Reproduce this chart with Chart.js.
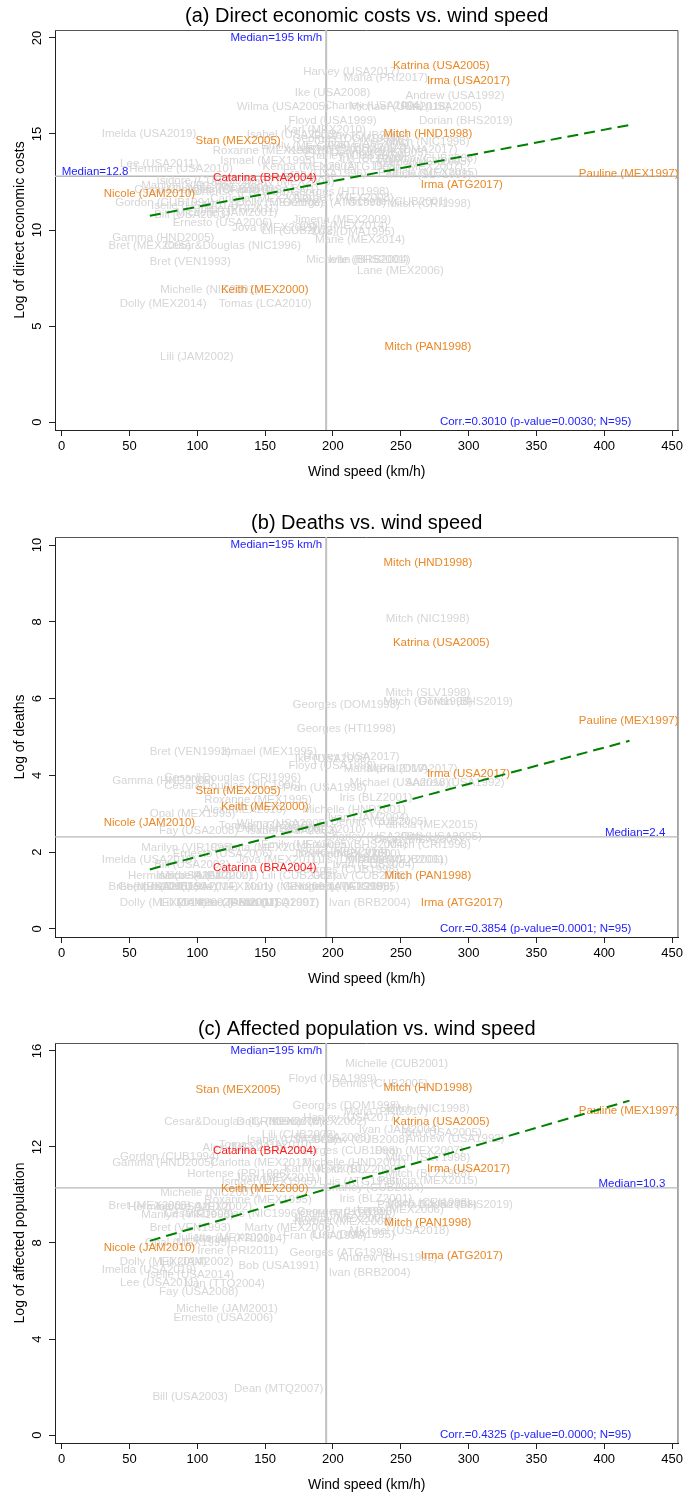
<!DOCTYPE html>
<html>
<head>
<meta charset="utf-8">
<script src="https://cdn.jsdelivr.net/npm/chart.js@4.4.0/dist/chart.umd.min.js"></script>
<style>
  body { margin: 0; background: #fff; width: 686px; height: 1499px; overflow: hidden; position: relative; }
  canvas { position: absolute; left: 0; }
</style>
</head>
<body>
<canvas id="chartA" width="686" height="500" style="top:0px"></canvas>
<canvas id="chartB" width="686" height="500" style="top:507px"></canvas>
<canvas id="chartC" width="686" height="500" style="top:1013px"></canvas>
<script>
// shared x axis (wind speed)
var xTicks = [0, 50, 100, 150, 200, 250, 300, 350, 400, 450];
var xMin = -4.9, xMax = 454.7;
var windMedian = 195;
var orangeNames = ['Katrina (USA2005)', 'Irma (USA2017)', 'Mitch (HND1998)', 'Stan (MEX2005)', 'Nicole (JAM2010)',
  'Keith (MEX2000)', 'Pauline (MEX1997)', 'Irma (ATG2017)', 'Mitch (PAN1998)'];
var redNames = ['Catarina (BRA2004)'];

// (a) direct economic costs
var namesA = ['Harvey (USA2017)', 'Maria (PRI2017)', 'Katrina (USA2005)', 'Irma (USA2017)', 'Ike (USA2008)', 'Andrew (USA1992)',
  'Wilma (USA2005)', 'Charley (USA2004)', 'Michael (USA2018)', 'Rita (USA2005)', 'Floyd (USA1999)', 'Dorian (BHS2019)',
  'Imelda (USA2019)', 'Mitch (HND1998)', 'Stan (MEX2005)', 'Isabel (USA2003)', 'Karl (MEX2010)', 'Georges (DOM1998)',
  'Ivan (JAM2004)', 'Gustav (CUB2008)', 'Frances (BHS2004)', 'Maria (DMA2017)', 'Wilma (MEX2005)', 'Roxanne (MEX1995)',
  'Dennis (CUB2005)', 'Lee (USA2011)', 'Ismael (MEX1995)', 'Hermine (USA2010)', 'Charley (CUB2004)', 'Kenna (MEX2002)',
  'Emily (MEX2005)', 'Keith (BLZ2000)', 'Iris (BLZ2001)', 'Luis (ATG1995)', 'Dean (MEX2007)', 'Paloma (CUB2008)',
  'Mitch (SLV1998)', 'Georges (HTI1998)', 'Isidore (CUB2002)', 'Catarina (BRA2004)', 'Pauline (MEX1997)', 'Irma (ATG2017)',
  'Nicole (JAM2010)', 'Cesar&Douglas (CRI1996)', 'Gordon (CUB1994)', 'Iselle (USA2014)', 'Dolly (MEX2008)', 'Georges (ATG1998)',
  'Michelle (CUB2001)', 'Mitch (CRI1998)', 'Michelle (JAM2001)', 'Bill (USA2003)', 'Ernesto (USA2006)', 'Jimena (MEX2009)',
  'Jova (MEX2011)', 'Lili (CUB2002)', 'Odile (MEX2014)', 'Luis (DMA1995)', 'Marie (MEX2014)', 'Gamma (HND2005)',
  'Bret (MEX2005)', 'Cesar&Douglas (NIC1996)', 'Bret (VEN1993)', 'Michelle (BHS2001)', 'Ivan (BRB2004)', 'Lane (MEX2006)',
  'Michelle (NIC2001)', 'Keith (MEX2000)', 'Dolly (MEX2014)', 'Tomas (LCA2010)', 'Lili (JAM2002)', 'Mitch (PAN1998)',
  'Marilyn (VIR1995)', 'Carlotta (MEX2012)', 'Bob (USA1991)', 'Fran (USA1996)', 'Norbert (MEX2008)', 'Irene (PRI2011)',
  'Hortense (PRI1996)', 'Juliette (MEX2001)', 'Marty (MEX2003)', 'Mitch (NIC1998)', 'Patricia (MEX2015)'];
var windA = [213.6, 239, 279.8, 299.9, 199.7, 290,
  163, 230, 249, 280, 199.7, 298,
  64.4, 270, 130.1, 170, 194, 209.8,
  226, 220, 217, 258.5, 267, 151,
  234, 72, 152, 88, 215.7, 183,
  180, 198, 231.6, 219.5, 263, 269.5,
  271, 205, 105, 149.8, 418, 295,
  64.7, 104, 76, 98, 161, 201,
  247, 270.8, 121.6, 96, 118.6, 206.5,
  157, 175, 208, 215, 220, 74.9,
  65, 126, 94.8, 218, 227, 249.7,
  109, 149.7, 74.8, 150, 99.6, 270,
  92.8, 147, 160, 194, 208, 130,
  130.2, 120, 168, 269.8, 270];
var costA = [18.24, 17.9, 18.56, 17.76, 17.15, 16.98,
  16.42, 16.45, 16.42, 16.42, 15.69, 15.69,
  15.0, 15.03, 14.64, 14.98, 15.2, 14.75,
  14.5, 14.9, 14.3, 14.17, 13.56, 14.13,
  14.03, 13.44, 13.6, 13.2, 13.85, 13.3,
  14.4, 14.1, 13.7, 13.3, 13.3, 13.7,
  12.86, 12.0, 12.55, 12.72, 12.92, 12.34,
  11.86, 12.08, 11.42, 11.27, 11.42, 11.42,
  11.45, 11.35, 10.9, 10.78, 10.35, 10.52,
  10.1, 9.96, 10.2, 9.88, 9.48, 9.6,
  9.17, 9.17, 8.33, 8.44, 8.44, 7.86,
  6.875, 6.875, 6.13, 6.13, 3.37, 3.92,
  12.3, 11.6, 12.1, 12.9, 11.7, 11.1,
  12.0, 12.2, 12.5, 14.6, 13.0];

// (b) deaths
var namesB = ['Mitch (HND1998)', 'Mitch (NIC1998)', 'Katrina (USA2005)', 'Mitch (SLV1998)', 'Mitch (GTM1998)', 'Dorian (BHS2019)',
  'Georges (DOM1998)', 'Pauline (MEX1997)', 'Georges (HTI1998)', 'Bret (VEN1993)', 'Ismael (MEX1995)', 'Harvey (USA2017)',
  'Ike (USA2008)', 'Floyd (USA1999)', 'Maria (PRI2017)', 'Maria (DMA2017)', 'Irma (USA2017)', 'Michael (USA2018)',
  'Andrew (USA1992)', 'Gamma (HND2005)', 'Cesar&Douglas (CRI1996)', 'Cesar&Douglas (NIC1996)', 'Fran (USA1996)', 'Michelle (HND2001)',
  'Stan (MEX2005)', 'Iris (BLZ2001)', 'Roxanne (MEX1995)', 'Keith (MEX2000)', 'Opal (MEX1995)', 'Alex (MEX2010)',
  'Nicole (JAM2010)', 'Fay (USA2008)', 'Tomas (LCA2010)', 'Karl (MEX2010)', 'Dennis (CUB2005)', 'Patricia (MEX2015)',
  'Charley (USA2004)', 'Rita (USA2005)', 'Dean (MEX2007)', 'Mitch (CRI1998)', 'Marilyn (VIR1995)', 'Carlotta (MEX2012)',
  'Ernesto (USA2006)', 'Imelda (USA2019)', 'Jova (MEX2011)', 'Bill (USA2003)', 'Catarina (BRA2004)', 'Hermine (USA2010)',
  'Isidore (MEX2002)', 'Lili (CUB2002)', 'Michelle (CUB2001)', 'Mitch (PAN1998)', 'Bret (MEX2005)', 'Gordon (CUB1994)',
  'Georges (ATG1998)', 'Luis (ATG1995)', 'Dolly (MEX2014)', 'Dean (MTQ2007)', 'Ivan (BRB2004)', 'Irma (ATG2017)',
  'Juliette (MEX2001)', 'Marty (MEX2003)', 'Norbert (MEX2008)', 'Lili (JAM2002)', 'Michelle (JAM2001)', 'Irene (PRI2011)',
  'Jimena (MEX2009)', 'Lane (MEX2006)', 'Ivan (CUB2004)', 'Georges (CUB1998)', 'Luis (DMA1995)', 'Keith (BLZ2000)',
  'Gustav (CUB2008)', 'Ivan (JAM2004)', 'Emily (MEX2005)', 'Frances (BHS2004)', 'Isabel (USA2003)', 'Wilma (USA2005)',
  'Iselle (USA2014)', 'Odile (MEX2014)', 'Dolly (MEX2008)', 'Bob (USA1991)', 'Michelle (NIC2001)', 'Lee (USA2011)'];
var windB = [270, 269.8, 279.8, 270, 270, 298,
  209.8, 418, 209.8, 94.8, 153.2, 213.6,
  199.7, 199.7, 239, 258.5, 299.9, 249,
  290, 74.9, 126, 126, 194, 215.7,
  130.1, 231.6, 144.8, 149.7, 96.5, 134.7,
  64.7, 101, 150, 194, 234, 270,
  230, 280, 263, 270.8, 92.8, 147,
  118.6, 64.4, 160, 96, 149.8, 87,
  105, 175, 247, 270, 65, 78,
  201, 219.5, 74.8, 157, 227, 295,
  120, 168, 208, 99.6, 122, 130,
  206.5, 249.7, 230, 209.8, 215, 219,
  220, 226, 180, 217, 170, 163,
  98, 208, 161, 160, 109, 72];
var deathsB = [9.55, 8.07, 7.46, 6.15, 5.92, 5.92,
  5.83, 5.41, 5.22, 4.61, 4.61, 4.48,
  4.42, 4.24, 4.16, 4.18, 4.05, 3.81,
  3.81, 3.85, 3.94, 3.72, 3.68, 3.1,
  3.59, 3.42, 3.37, 3.17, 2.99, 3.11,
  2.77, 2.55, 2.68, 2.58, 2.79, 2.72,
  2.4, 2.4, 2.31, 2.18, 2.1, 2.1,
  1.95, 1.79, 1.79, 1.68, 1.6, 1.39,
  1.39, 1.39, 1.79, 1.39, 1.1, 1.1,
  1.1, 1.1, 0.69, 0.69, 0.69, 0.69,
  1.1, 1.1, 1.1, 0.69, 0.69, 0.69,
  1.95, 1.8, 1.68, 1.55, 1.8, 1.95,
  1.39, 2.9, 2.2, 2.2, 2.55, 2.75,
  1.1, 2.0, 2.62, 0.69, 1.39, 1.1];

// (c) affected population
var namesC = ['Michelle (CUB2001)', 'Floyd (USA1999)', 'Dennis (CUB2005)', 'Mitch (HND1998)', 'Stan (MEX2005)', 'Georges (DOM1998)',
  'Mitch (NIC1998)', 'Maria (PRI2017)', 'Pauline (MEX1997)', 'Harvey (USA2017)', 'Cesar&Douglas (CRI1996)', 'Dolly (MEX2008)',
  'Kenna (MEX2002)', 'Katrina (USA2005)', 'Ivan (JAM2004)', 'Rita (USA2005)', 'Andrew (USA1992)', 'Lili (CUB2002)',
  'Isabel (USA2003)', 'Georges (CUB1998)', 'Dean (MEX2007)', 'Mitch (SLV1998)', 'Alex (MEX2010)', 'Tomas (LCA2010)',
  'Catarina (BRA2004)', 'Gordon (CUB1994)', 'Gamma (HND2005)', 'Carlotta (MEX2012)', 'Michelle (HND2001)', 'Keith (BLZ2000)',
  'Mitch (BLZ1998)', 'Irma (USA2017)', 'Hortense (PRI1996)', 'Jova (MEX2011)', 'Ismael (MEX1995)', 'Luis (ATG1995)',
  'Charley (CUB2004)', 'Keith (MEX2000)', 'Michelle (NIC2001)', 'Roxanne (MEX1995)', 'Iris (BLZ2001)', 'Paloma (CUB2008)',
  'Dorian (BHS2019)', 'Mitch (CRI1998)', 'Bret (MEX2005)', 'Hermine (USA2010)', 'Isidore (MEX2002)', 'Marilyn (VIR1995)',
  'Cesar&Douglas (NIC1996)', 'Georges (HTI1998)', 'Norbert (MEX2008)', 'Mitch (PAN1998)', 'Bret (VEN1993)', 'Marty (MEX2003)',
  'Juliette (MEX2001)', 'Jeanne (PRI2004)', 'Fran (USA1996)', 'Luis (DMA1995)', 'Opal (MEX1995)', 'Nicole (JAM2010)',
  'Irene (PRI2011)', 'Georges (ATG1998)', 'Andrew (BHS1992)', 'Irma (ATG2017)', 'Dolly (MEX2014)', 'Lili (JAM2002)',
  'Bob (USA1991)', 'Imelda (USA2019)', 'Ivan (BRB2004)', 'Iselle (USA2014)', 'Lee (USA2011)', 'Ivan (TTO2004)',
  'Fay (USA2008)', 'Michelle (JAM2001)', 'Ernesto (USA2006)', 'Dean (MTQ2007)', 'Bill (USA2003)', 'Michael (USA2018)',
  'Odile (MEX2014)', 'Ike (USA2008)', 'Gustav (CUB2008)', 'Karl (MEX2010)', 'Jimena (MEX2009)', 'Lane (MEX2006)',
  'Patricia (MEX2015)'];
var windC = [247, 199.7, 234.6, 270, 130.1, 209.8,
  269.8, 239, 418, 213.6, 126, 161,
  190, 279.8, 249, 280, 290, 175,
  170, 209.8, 263.5, 270, 134.7, 150,
  149.8, 79.6, 74.9, 147, 215.7, 219,
  270, 299.9, 130.2, 159, 153, 219.4,
  230, 149.7, 109, 144.8, 231.6, 269.5,
  298, 270.8, 65, 87, 105, 92.8,
  126, 209.8, 208, 270, 94.8, 168,
  120, 131, 194, 215, 93, 64.7,
  129.9, 206, 240.7, 295, 74.8, 99.6,
  160, 64.4, 227, 95, 72, 120,
  101, 122, 119.2, 160, 94.7, 249,
  208, 199.7, 220, 194, 206.5, 249.7,
  270];
var affectedC = [15.48, 14.82, 14.65, 14.48, 14.4, 13.7,
  13.57, 13.47, 13.51, 13.23, 13.03, 13.03,
  13.03, 13.05, 12.7, 12.57, 12.33, 12.52,
  12.29, 11.83, 11.83, 11.53, 11.97, 12.1,
  11.83, 11.57, 11.32, 11.32, 11.34, 11.04,
  10.9, 11.08, 10.87, 10.73, 10.55, 10.55,
  10.28, 10.25, 10.07, 9.79, 9.86, 9.58,
  9.58, 9.69, 9.55, 9.51, 9.51, 9.16,
  9.23, 9.3, 8.88, 8.86, 8.63, 8.63,
  8.23, 8.16, 8.29, 8.36, 8.0, 7.8,
  7.66, 7.57, 7.38, 7.47, 7.22, 7.22,
  7.05, 6.87, 6.76, 6.69, 6.36, 6.28,
  5.97, 5.25, 4.9, 1.91, 1.59, 8.5,
  9.2, 12.4, 12.3, 11.1, 9.0, 9.4,
  10.6];

// fitted lines (end points) and medians
var fitX = [65, 418.6];
var fitA = [10.74, 15.47];
var fitB = [1.55, 4.9];
var fitC = [8.09, 13.93];
var medianA = 12.8, medianB = 2.4, medianC = 10.3;
var corrA = 'Corr.=0.3010 (p-value=0.0030; N=95)';
var corrB = 'Corr.=0.3854 (p-value=0.0001; N=95)';
var corrC = 'Corr.=0.4325 (p-value=0.0000; N=95)';

var GRAY = '#d6d6d6', ORANGE = 'rgb(234,136,38)', RED = 'rgb(255,25,25)', BLUE = 'rgb(30,30,255)';
var FONT = '"Liberation Sans", Arial, Helvetica, sans-serif';

function labelColor(name) {
  if (redNames.indexOf(name) >= 0) return RED;
  if (orangeNames.indexOf(name) >= 0) return ORANGE;
  return GRAY;
}

var markLabels = {
  id: 'markLabels',
  beforeDatasetsDraw: function (chart) {
    // box round plot region
    var a = chart.chartArea, ctx = chart.ctx;
    ctx.save();
    ctx.strokeStyle = '#555';
    ctx.lineWidth = 1;
    ctx.beginPath();
    ctx.moveTo(a.left, a.top + 0.5);
    ctx.lineTo(a.right - 0.5, a.top + 0.5);
    ctx.lineTo(a.right - 0.5, a.bottom);
    ctx.stroke();
    ctx.restore();
  },
  afterDatasetDraw: function (chart, args) {
    var ds = chart.data.datasets[args.index];
    if (!ds.markText) return;
    var ctx = chart.ctx;
    ctx.save();
    ctx.font = '11.5px ' + FONT;
    ctx.textAlign = 'center';
    ctx.textBaseline = 'middle';
    // gray first, highlighted on top
    [false, true].forEach(function (hi) {
      args.meta.data.forEach(function (pt, i) {
        var c = labelColor(ds.markText[i]);
        if ((c !== GRAY) !== hi) return;
        ctx.fillStyle = c;
        ctx.fillText(ds.markText[i], pt.x, pt.y);
      });
    });
    ctx.restore();
  },
  afterDraw: function (chart, args, opts) {
    var ctx = chart.ctx, xs = chart.scales.x, ys = chart.scales.y;
    ctx.save();
    ctx.font = '11.5px ' + FONT;
    ctx.fillStyle = BLUE;
    ctx.textBaseline = 'middle';
    ctx.textAlign = 'right';
    ctx.fillText('Median=' + windMedian + ' km/h', xs.getPixelForValue(windMedian) - 4, ys.getPixelForValue(opts.yTop));
    ctx.fillText(opts.corr, xs.getPixelForValue(420), ys.getPixelForValue(0));
    ctx.textBaseline = 'alphabetic';
    var my = ys.getPixelForValue(opts.median) - 1;
    if (opts.medianLeft) {
      ctx.textAlign = 'left';
      ctx.fillText('Median=' + opts.median, xs.getPixelForValue(0), my);
    } else {
      ctx.textAlign = 'right';
      ctx.fillText('Median=' + opts.median, xs.getPixelForValue(445), my);
    }
    ctx.restore();
  }
};

function points(xv, yv) {
  return xv.map(function (x, i) { return {x: x, y: yv[i]}; });
}

function makeChart(id, title, yTitle, names, wind, vals, fit, median, medianLeft, yMin, yMax, yTicks, corr) {
  var axisColor = '#222';
  return new Chart(document.getElementById(id).getContext('2d'), {
    type: 'scatter',
    data: {
      datasets: [
        {
          // fitted line
          data: points(fitX, fit),
          showLine: true, pointRadius: 0, borderColor: 'rgb(0,128,0)', borderWidth: 2,
          borderDash: [11, 6], fill: false
        },
        {
          // labelled observations
          data: points(wind, vals), markText: names,
          pointRadius: 0, showLine: false
        },
        {
          data: [{x: windMedian, y: yMin}, {x: windMedian, y: yMax}],
          showLine: true, pointRadius: 0, borderColor: '#c0c0c0', borderWidth: 2
        },
        {
          data: [{x: xMin, y: median}, {x: xMax, y: median}],
          showLine: true, pointRadius: 0, borderColor: '#b8b8b8', borderWidth: 1.3
        }
      ]
    },
    options: {
      responsive: false,
      animation: false,
      events: [],
      layout: {padding: {left: 0, right: 6, top: 0, bottom: 0}},
      plugins: {
        legend: {display: false},
        tooltip: {enabled: false},
        title: {
          display: true, text: title, color: '#000', fullSize: false,
          font: {family: FONT, size: 20, weight: 'normal'}, padding: {top: 4, bottom: 2}
        },
        markLabels: {median: median, medianLeft: medianLeft, corr: corr, yTop: yTicks[yTicks.length - 1]}
      },
      scales: {
        x: {
          type: 'linear', min: xMin, max: xMax,
          afterBuildTicks: function (s) { s.ticks = xTicks.map(function (v) { return {value: v}; }); },
          afterFit: function (s) { s.height = 70; },
          grid: {drawOnChartArea: false, tickLength: 6, color: axisColor},
          border: {color: axisColor},
          ticks: {color: '#000', font: {family: FONT, size: 13}, padding: 3, maxRotation: 0, autoSkip: false},
          title: {display: true, text: 'Wind speed (km/h)', color: '#000', font: {family: FONT, size: 14}, padding: {top: 19, bottom: 19}}
        },
        y: {
          type: 'linear', min: yMin, max: yMax,
          afterBuildTicks: function (s) { s.ticks = yTicks.map(function (v) { return {value: v}; }); },
          afterFit: function (s) { s.width = 55; },
          grid: {drawOnChartArea: false, tickLength: 6, color: axisColor},
          border: {color: axisColor},
          ticks: {color: '#000', font: {family: FONT, size: 13}, padding: 4, minRotation: 90, maxRotation: 90, crossAlign: 'center', autoSkip: false},
          title: {display: true, text: yTitle, color: '#000', font: {family: FONT, size: 14}, padding: {top: 12, bottom: 12}}
        }
      }
    },
    plugins: [markLabels]
  });
}

makeChart('chartA', '(a) Direct economic costs vs. wind speed', 'Log of direct economic costs',
  namesA, windA, costA, fitA, medianA, true, -0.415, 20.415, [0, 5, 10, 15, 20], corrA);
makeChart('chartB', '(b) Deaths vs. wind speed', 'Log of deaths',
  namesB, windB, deathsB, fitB, medianB, false, -0.21, 10.21, [0, 2, 4, 6, 8, 10], corrB);
makeChart('chartC', '(c) Affected population vs. wind speed', 'Log of affected population',
  namesC, windC, affectedC, fitC, medianC, false, -0.33, 16.33, [0, 4, 8, 12, 16], corrC);
</script>
</body>
</html>
